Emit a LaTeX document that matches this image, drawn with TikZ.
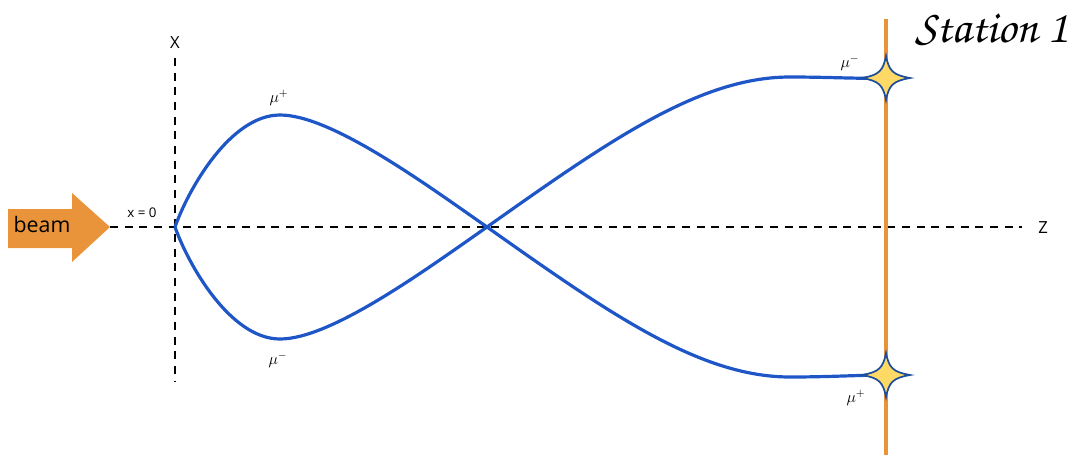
\documentclass[tikz,border=0pt]{standalone}
\usepackage[T1]{fontenc}
\usepackage{fontspec}
\setmainfont{Open Sans}
\usepackage{xcolor}
\usepackage{tikz}
\usetikzlibrary{positioning, calc}
\definecolor{muonblue}{RGB}{31,86,199}
\definecolor{beamorange}{RGB}{233,148,58}
\definecolor{staryellow}{RGB}{255,217,102}
\definecolor{staredge}{RGB}{31,78,154}

\begin{document}
\begin{tikzpicture}[x=0.75pt, y=-0.75pt,
  axis/.style={dash pattern=on 6pt off 5pt, line width=1.5pt},
  track/.style={muonblue, line width=2.4pt},
  station/.style={beamorange, line width=3pt},
  label/.style={inner sep=0pt, font=\fontsize{12}{14}\selectfont},
  axislabel/.style={inner sep=0pt, font=\fontsize{12.5}{15}\selectfont},
  sparkle/.pic={
    \filldraw[fill=staryellow, draw=staredge, line width=1.3pt]
      (24,0) .. controls (7,3) and (3,7) .. (0,22)
      .. controls (-3,7) and (-7,3) .. (-24,0)
      .. controls (-7,-3) and (-3,-7) .. (0,-22)
      .. controls (3,-7) and (7,-3) .. (24,0) -- cycle;
  }
]
  \useasboundingbox (0,0) rectangle (1072,458);

  % fixed points
  \coordinate (origin) at (175,227);
  \coordinate (cross) at (487,227);
  \coordinate (beamtip) at (110,227);
  \coordinate (zend) at (1022,227);
  \coordinate (xtop) at (175,58);
  \coordinate (xbot) at (175,382);
  \coordinate (stationtop) at (886,19);
  \coordinate (stationbot) at (886,455);
  \coordinate (hittop) at (886,78);
  \coordinate (hitbot) at (886,375);

  % axes
  \draw[axis] (beamtip) -- (zend);
  \draw[axis] (xtop) -- (xbot);
  \node[axislabel] (xlabel) at (175,43) {X};
  \node[axislabel] (zlabel) at (1043,228) {Z};
  \node[inner sep=0pt, font=\fontsize{10}{12}\selectfont] (xzero) at (142,213) {x = 0};

  % beam
  \fill[beamorange] (8,209) -- (72,209) -- (72,193) -- (beamtip)
    -- (72,262) -- (72,248) -- (8,248) -- cycle;
  \node[inner sep=0pt, font=\fontsize{16}{19}\selectfont] (beam) at (42,224) {beam};

  % station
  \draw[station] (stationtop) -- (stationbot);
  \node[inner sep=0pt, font=\fontencoding{T1}\fontfamily{pzc}\fontseries{m}\fontshape{it}\fontsize{35}{38}\selectfont]
    (stationlabel) at (992,30) {Station 1};

  % muon tracks
  \draw[track] (origin) .. controls (188,190) and (230,115) .. (280,115)
    .. controls (330,115) and (420,180) .. (cross)
    .. controls (610,314) and (700,377) .. (790,377)
    .. controls (830,377) and (860,375) .. (hitbot);
  \draw[track] (origin) .. controls (188,264) and (230,339) .. (280,339)
    .. controls (330,339) and (420,274) .. (cross)
    .. controls (610,140) and (700,77) .. (790,77)
    .. controls (830,77) and (860,79) .. (hittop);

  \node[label] (muplusl) at (279,98) {$\mu^{+}$};
  \node[label] (muminusl) at (278,360) {$\mu^{-}$};
  \node[label] (muminusr) at (850,63) {$\mu^{-}$};
  \node[label] (muplusr) at (856,398) {$\mu^{+}$};

  % hits
  \pic at (hittop) {sparkle};
  \pic at (hitbot) {sparkle};
\end{tikzpicture}
\end{document}
